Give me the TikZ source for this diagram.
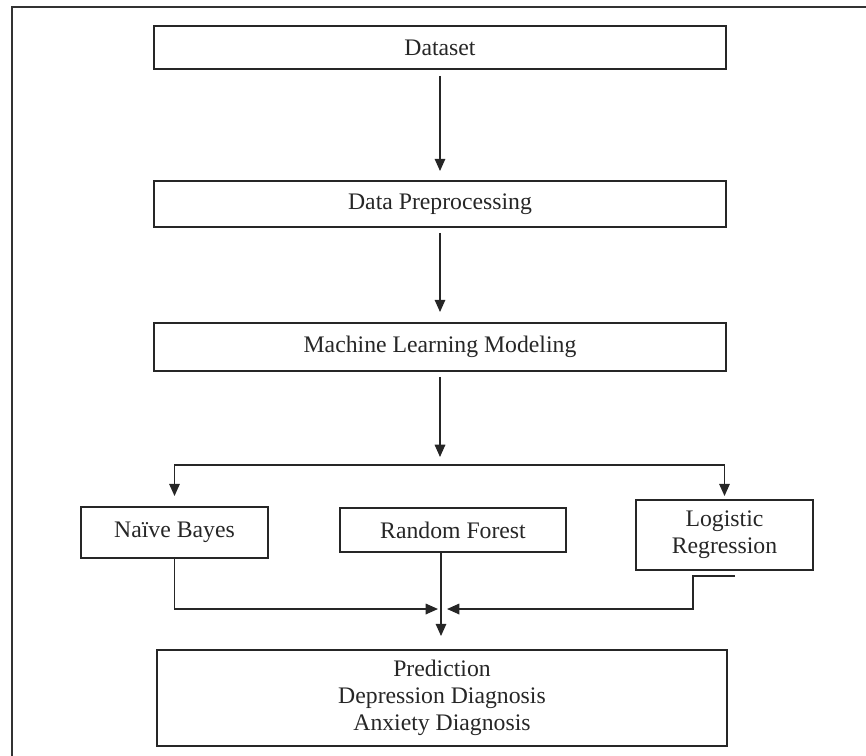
\documentclass[tikz,border=0pt]{standalone}
\usepackage{fontspec}
\setmainfont{Liberation Serif}
\usetikzlibrary{arrows.meta}

\begin{document}
\begin{tikzpicture}[x=0.02cm, y=-0.02cm,
	box/.style={draw=black!85, line width=1.1pt, inner sep=0pt, align=center, text=black!85, font=\fontsize{13.5}{15.3}\selectfont},
	link/.style={draw=black!85, line width=0.9pt, -{Triangle[length=7pt,width=6pt]}}]
	\useasboundingbox (0,0) rectangle (866,755);
	\clip (0,0) rectangle (866,755);
	\draw [line width=1.2pt, draw=black!80] (12,7) rectangle (900,800);

	\node [box, minimum width=11.44cm, minimum height=0.86cm] (data) at (440,47.5) {Dataset};
	\node [box, minimum width=11.44cm, minimum height=0.92cm] (prep) at (440,204) {Data Preprocessing};
	\node [box, minimum width=11.44cm, minimum height=0.96cm] (model) at (440,347) {Machine Learning Modeling};

	\node [box, minimum width=3.74cm, minimum height=1.02cm] (nb) at (174.5,532.5) {Naïve Bayes};
	\node [box, minimum width=4.52cm, minimum height=0.88cm] (rf) at (453,530) {Random Forest};
	\node [box, minimum width=3.54cm, minimum height=1.4cm] (lr) at (724.5,535) {Logistic\\Regression};

	\node [box, minimum width=11.4cm, minimum height=1.92cm] (pred) at (442,698) {Prediction\\Depression Diagnosis\\Anxiety Diagnosis};

	\coordinate (split) at (440,465);
	\coordinate (merge) at (441,609);
	\coordinate (lrout) at (735,576);

	\draw [link, shorten <=0.12cm, shorten >=0.18cm] (data) -- (prep);
	\draw [link, shorten <=0.1cm, shorten >=0.2cm] (prep) -- (model);
	\draw [link, shorten <=0.1cm, shorten >=0.16cm] (model) -- (split);

	\draw [link, shorten >=0.2cm] (split) -| (nb);
	\draw [link, shorten >=0.06cm] (split) -| (lr);

	\draw [link, shorten >=0.06cm] (nb) |- (merge);
	\draw [link, shorten >=0.12cm] (lrout) -- ++(-42,0) |- (merge);
	\draw [link, shorten >=0.26cm] (rf.south -| merge) -- (pred.north -| merge);
\end{tikzpicture}
\end{document}
